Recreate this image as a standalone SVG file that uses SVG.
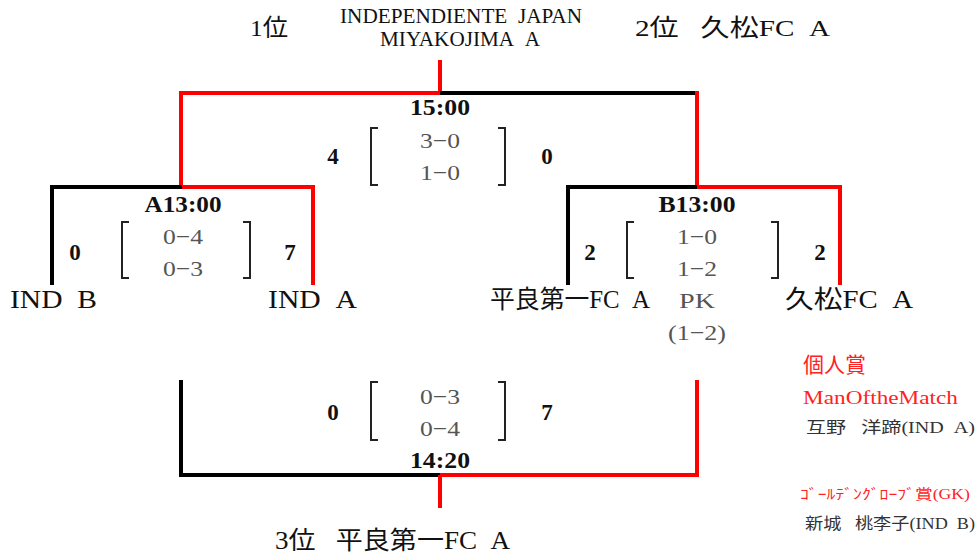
<svg xmlns="http://www.w3.org/2000/svg" width="979" height="558" viewBox="0 0 979 558">
<style>
text{font-family:"Liberation Serif","Noto Sans CJK JP",serif;fill:#111}
.team{font-size:25px}
.time{font-size:24px;font-weight:bold;text-anchor:middle}
.goal{font-size:23px;font-weight:bold;text-anchor:middle}
.half{font-size:22px;fill:#555;text-anchor:middle}
.br{fill:none;stroke:#222;stroke-width:2}
.k{stroke:#000;stroke-width:4;fill:none}
.r{stroke:#f00;stroke-width:4;fill:none}
.red{fill:#f22}
.gray{fill:#333}
</style>
<rect width="979" height="558" fill="#fff"/>
<g id="connectors">
  <path class="r" d="M440 60V93"/>
  <path class="r" d="M181 187V93H440"/>
  <path class="k" d="M440 93H697"/>
  <path class="r" d="M697 91V187"/>
  <path class="k" d="M52 285V187H182"/>
  <path class="r" d="M182 187H313V285"/>
  <path class="k" d="M568 285V187H697"/>
  <path class="r" d="M697 187H840V285"/>
  <path class="k" d="M181 380V475H440"/>
  <path class="r" d="M440 475H697V380"/>
  <path class="r" d="M440 475V508"/>
</g>
<g id="title">
  <text x="250" y="36" style="font-size:24px" textLength="38" lengthAdjust="spacingAndGlyphs">1位</text>
  <text x="340" y="23" style="font-size:20px" textLength="242" lengthAdjust="spacingAndGlyphs">INDEPENDIENTE&#160;&#160;JAPAN</text>
  <text x="380" y="46" style="font-size:20px" textLength="160" lengthAdjust="spacingAndGlyphs">MIYAKOJIMA&#160;&#160;A</text>
  <text x="635" y="36" style="font-size:24px" textLength="195" lengthAdjust="spacingAndGlyphs">2位&#160;&#160;&#160;久松FC&#160;&#160;A</text>
</g>
<g id="final">
  <text class="time" x="440" y="115" textLength="60" lengthAdjust="spacingAndGlyphs">15:00</text>
  <text class="goal" x="333" y="164">4</text>
  <path class="br" d="M378 128H371V185H378"/>
  <text class="half" x="440" y="148" textLength="40" lengthAdjust="spacingAndGlyphs">3−0</text>
  <text class="half" x="440" y="180" textLength="40" lengthAdjust="spacingAndGlyphs">1−0</text>
  <path class="br" d="M498 128H505V185H498"/>
  <text class="goal" x="547" y="164">0</text>
</g>
<g id="semiA">
  <text class="time" x="183" y="212" textLength="77" lengthAdjust="spacingAndGlyphs">A13:00</text>
  <text class="goal" x="75" y="260">0</text>
  <path class="br" d="M129 222H122V278H129"/>
  <text class="half" x="183" y="244" textLength="40" lengthAdjust="spacingAndGlyphs">0−4</text>
  <text class="half" x="183" y="276" textLength="40" lengthAdjust="spacingAndGlyphs">0−3</text>
  <path class="br" d="M243 222H250V278H243"/>
  <text class="goal" x="290" y="260">7</text>
</g>
<g id="semiB">
  <text class="time" x="697" y="212" textLength="77" lengthAdjust="spacingAndGlyphs">B13:00</text>
  <text class="goal" x="590" y="260">2</text>
  <path class="br" d="M634 222H627V278H634"/>
  <text class="half" x="697" y="244" textLength="40" lengthAdjust="spacingAndGlyphs">1−0</text>
  <text class="half" x="697" y="276" textLength="40" lengthAdjust="spacingAndGlyphs">1−2</text>
  <path class="br" d="M771 222H778V278H771"/>
  <text class="goal" x="820" y="260">2</text>
  <text class="half" x="697" y="308" textLength="36" lengthAdjust="spacingAndGlyphs">PK</text>
  <text class="half" x="697" y="340" textLength="58" lengthAdjust="spacingAndGlyphs">(1−2)</text>
</g>
<g id="teams">
  <text class="team" x="10" y="308" textLength="87" lengthAdjust="spacingAndGlyphs">IND&#160;&#160;B</text>
  <text class="team" x="268" y="308" textLength="89" lengthAdjust="spacingAndGlyphs">IND&#160;&#160;A</text>
  <text class="team" x="490" y="308" textLength="160" lengthAdjust="spacingAndGlyphs">平良第一FC&#160;&#160;A</text>
  <text class="team" x="785" y="308" textLength="128" lengthAdjust="spacingAndGlyphs">久松FC&#160;&#160;A</text>
</g>
<g id="third">
  <text class="goal" x="333" y="420">0</text>
  <path class="br" d="M378 382H371V440H378"/>
  <text class="half" x="440" y="404" textLength="40" lengthAdjust="spacingAndGlyphs">0−3</text>
  <text class="half" x="440" y="436" textLength="40" lengthAdjust="spacingAndGlyphs">0−4</text>
  <path class="br" d="M498 382H505V440H498"/>
  <text class="goal" x="547" y="420">7</text>
  <text class="time" x="440" y="468" textLength="60" lengthAdjust="spacingAndGlyphs">14:20</text>
  <text class="team" x="275" y="549" textLength="235" lengthAdjust="spacingAndGlyphs">3位&#160;&#160;&#160;平良第一FC&#160;&#160;A</text>
</g>
<g id="awards">
  <text class="red" x="803" y="372" style="font-size:21px">個人賞</text>
  <text class="red" x="803" y="404" style="font-size:19px" textLength="155" lengthAdjust="spacingAndGlyphs">ManOftheMatch</text>
  <text class="gray" x="806" y="433" style="font-size:16px" textLength="169" lengthAdjust="spacingAndGlyphs">互野&#160;&#160;&#160;洋蹄(IND&#160;&#160;A)</text>
  <text class="red" x="800" y="499" style="font-size:14px" textLength="170" lengthAdjust="spacingAndGlyphs">ｺﾞｰﾙﾃﾞﾝｸﾞﾛｰﾌﾞ賞(GK)</text>
  <text class="gray" x="805" y="529" style="font-size:16px" textLength="170" lengthAdjust="spacingAndGlyphs">新城&#160;&#160;&#160;桃李子(IND&#160;&#160;B)</text>
</g>
</svg>
